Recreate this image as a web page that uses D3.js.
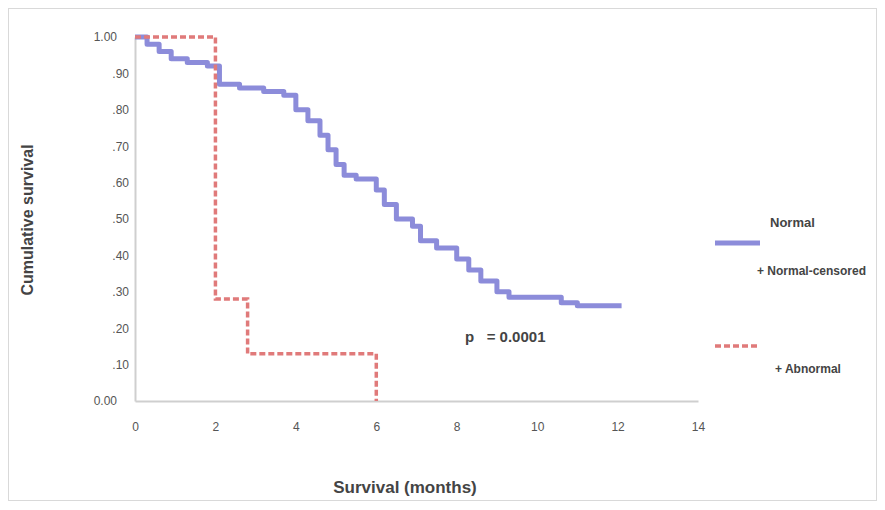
<!DOCTYPE html>
<html>
<head>
<meta charset="utf-8">
<script src="https://cdn.jsdelivr.net/npm/d3@7"></script>
<style>
  body { margin: 0; background: #fff; }
  text { font-family: "Liberation Sans", Arial, sans-serif; fill: #444; }
</style>
</head>
<body>
<svg></svg>
<script>
// kaplan-meier steps, time in months
const blueTimes = [0, 0.3, 0.6, 0.9, 1.3, 1.8, 2.1, 2.6, 3.2, 3.7, 4.0, 4.3, 4.6, 4.8, 5.0, 5.2, 5.5, 6.0, 6.2, 6.5, 6.9, 7.1, 7.5, 8.0, 8.3, 8.6, 9.0, 9.3, 10.6, 11.0, 12.1];
const blueSurv  = [1.0, 0.98, 0.96, 0.94, 0.93, 0.92, 0.87, 0.86, 0.85, 0.84, 0.80, 0.77, 0.73, 0.69, 0.65, 0.62, 0.61, 0.58, 0.54, 0.50, 0.48, 0.44, 0.42, 0.39, 0.36, 0.33, 0.30, 0.285, 0.27, 0.262, 0.262];
const redTimes = [0, 2, 2.8, 6, 6];
const redSurv  = [1.0, 0.28, 0.13, 0.13, 0.0];

const xTicks = [0, 2, 4, 6, 8, 10, 12, 14];
const yTicks = [0, 0.1, 0.2, 0.3, 0.4, 0.5, 0.6, 0.7, 0.8, 0.9, 1.0];
const yLabels = ['0.00', '.10', '.20', '.30', '.40', '.50', '.60', '.70', '.80', '.90', '1.00'];
const legendNames = ['Normal', '+ Normal-censored', '+ Abnormal'];
const pText = 'p   = 0.0001';

const width = 885;
const height = 510;
const blueColor = '#8c8cda';
const redColor = '#e07a7a';

var svg = d3.select('svg').attr('width', width).attr('height', height);

// outer frame
svg.append('rect').attr('x', 8.5).attr('y', 8.5).attr('width', 868).attr('height', 492)
  .style('fill', '#fff').style('stroke', '#d9d9d9');

var x = d3.scaleLinear().domain([0, 14]).range([135, 698]);
var y = d3.scaleLinear().domain([0, 1]).range([401, 37]);

// axes
var xAxis = svg.append('g').attr('transform', 'translate(0,' + y(0) + ')')
  .call(d3.axisBottom(x).tickValues(xTicks).tickSize(0).tickPadding(21));
var yAxis = svg.append('g').attr('transform', 'translate(' + x(0) + ',0)')
  .call(d3.axisLeft(y).tickValues(yTicks).tickSize(0).tickPadding(6)
    .tickFormat((d, i) => yLabels[i]));
[xAxis, yAxis].forEach(g => {
  g.select('.domain').style('stroke', '#cfcfcf').style('stroke-width', 2);
  g.selectAll('text').style('font-size', '12px').style('fill', '#555');
});
// end labels sit further left
yAxis.selectAll('.tick text').attr('dx', (d, i) => (i == 0 || i == yTicks.length - 1) ? -12 : 0);

// curves
var line = d3.line().x(d => x(d[0])).y(d => y(d[1])).curve(d3.curveStepAfter);
svg.append('path').datum(blueTimes.map((t, i) => [t, blueSurv[i]]))
  .attr('d', line).style('fill', 'none').style('stroke', blueColor)
  .style('stroke-width', 5).style('stroke-linejoin', 'round');
svg.append('path').datum(redTimes.map((t, i) => [t, redSurv[i]]))
  .attr('d', line).style('fill', 'none').style('stroke', redColor)
  .style('stroke-width', 3.5).style('stroke-dasharray', '6,3');

// p value
svg.append('text').attr('x', 465).attr('y', 342).text(pText)
  .style('font-size', '15px').style('font-weight', 'bold').style('white-space', 'pre');

// legend
svg.append('line').attr('x1', 715).attr('x2', 760).attr('y1', 243).attr('y2', 243)
  .style('stroke', blueColor).style('stroke-width', 5);
svg.append('line').attr('x1', 715).attr('x2', 760).attr('y1', 346).attr('y2', 346)
  .style('stroke', redColor).style('stroke-width', 3.5).style('stroke-dasharray', '6,3');
svg.append('text').attr('x', 770).attr('y', 227).text(legendNames[0])
  .style('font-size', '13px').style('font-weight', 'bold');
svg.append('text').attr('x', 757).attr('y', 275).text(legendNames[1])
  .style('font-size', '12px').style('font-weight', 'bold');
svg.append('text').attr('x', 775).attr('y', 373).text(legendNames[2])
  .style('font-size', '12px').style('font-weight', 'bold');

// axis titles
svg.append('text').attr('x', 405).attr('y', 493).attr('text-anchor', 'middle')
  .text('Survival (months)').style('font-size', '17px').style('font-weight', 'bold');
svg.append('text').attr('transform', 'translate(33,220) rotate(-90)').attr('text-anchor', 'middle')
  .text('Cumulative survival').style('font-size', '16px').style('font-weight', 'bold');
</script>
</body>
</html>
